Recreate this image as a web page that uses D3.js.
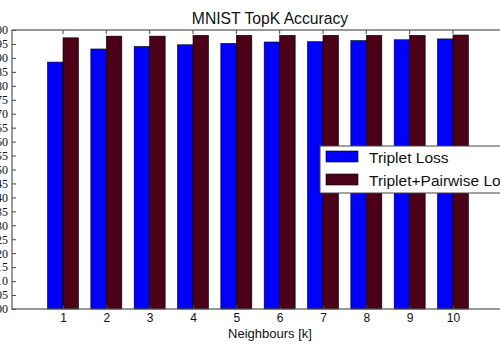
<!DOCTYPE html>
<html>
<head>
<meta charset="utf-8">
<script src="https://cdn.jsdelivr.net/npm/d3@7"></script>
<style>
body { margin: 0; background: #fff; }
</style>
</head>
<body>
<svg width="500" height="354"></svg>
<script>
const neighbours = [1, 2, 3, 4, 5, 6, 7, 8, 9, 10]
const tripletLoss = [0.885, 0.932, 0.941, 0.947, 0.952, 0.957, 0.958, 0.962, 0.965, 0.968]
const pairwiseLoss = [0.972, 0.978, 0.978, 0.981, 0.981, 0.981, 0.981, 0.981, 0.981, 0.982]
const seriesNames = ['Triplet Loss', 'Triplet+Pairwise Loss']
const seriesColors = ['#0000ff', '#4b0018']
const yTicks = d3.range(0, 21).map(i => i * 0.05)

const svg = d3.select('svg')
const width = +svg.attr('width')
const height = +svg.attr('height')

const plot = {left: 12, right: 540, top: 30, bottom: 309}

const xScale = d3.scaleLinear()
	.domain([1, 10])
	.range([63, 453])

const yScale = d3.scaleLinear()
	.domain([0, 1])
	.range([plot.bottom, plot.top])

const barW = 15.5

const g = svg.append('g')

// bars
const series = [tripletLoss, pairwiseLoss]
series.forEach((vals, s) => {
	g.append('g').selectAll('rect')
		.data(neighbours)
		.enter()
		.append('rect')
		.attr('x', (d, i) => xScale(d) + (s - 1) * barW)
		.attr('y', (d, i) => yScale(vals[i]))
		.attr('width', barW)
		.attr('height', (d, i) => plot.bottom - yScale(vals[i]))
		.attr('fill', seriesColors[s])
		.attr('stroke', '#000')
		.attr('stroke-width', 0.6)
})

// axes (matplotlib style, ticks inward)
const xAxis = d3.axisBottom(xScale)
	.tickValues(neighbours)
	.tickSize(-4)
	.tickPadding(4)

const yAxis = d3.axisLeft(yScale)
	.tickValues(yTicks)
	.tickFormat(d3.format('.2f'))
	.tickSize(-4)
	.tickPadding(4)

const xg = g.append('g')
	.attr('transform', `translate(0, ${plot.bottom})`)
	.call(xAxis)
xg.select('.domain').remove()
xg.selectAll('text')
	.attr('y', 4)
	.attr('font-family', 'Liberation Sans, Arial, sans-serif')
	.attr('font-size', '12px')
	.attr('fill', '#111')
xg.selectAll('line').attr('stroke', '#444')

// top ticks
g.append('g').selectAll('line')
	.data(neighbours)
	.enter()
	.append('line')
	.attr('x1', d => xScale(d))
	.attr('x2', d => xScale(d))
	.attr('y1', plot.top)
	.attr('y2', plot.top + 4)
	.attr('stroke', '#444')

const yg = g.append('g')
	.attr('transform', `translate(${plot.left}, 0)`)
	.call(yAxis)
yg.select('.domain').remove()
yg.selectAll('text')
	.attr('font-family', 'Liberation Serif, Times New Roman, serif')
	.attr('font-size', '12px')
	.attr('fill', '#111')
yg.selectAll('line').attr('stroke', '#444')

// spines
g.append('rect')
	.attr('x', plot.left)
	.attr('y', plot.top)
	.attr('width', plot.right - plot.left)
	.attr('height', plot.bottom - plot.top)
	.attr('fill', 'none')
	.attr('stroke', '#555')
	.attr('stroke-width', 1.2)

// title
svg.append('text')
	.attr('x', 270)
	.attr('y', 24)
	.attr('text-anchor', 'middle')
	.attr('font-family', 'Liberation Sans, Arial, sans-serif')
	.attr('font-size', '15.7px')
	.attr('fill', '#111')
	.text('MNIST TopK Accuracy')

// x label
svg.append('text')
	.attr('x', 270)
	.attr('y', 338)
	.attr('text-anchor', 'middle')
	.attr('font-family', 'Liberation Sans, Arial, sans-serif')
	.attr('font-size', '13px')
	.attr('fill', '#111')
	.text('Neighbours [k]')

// legend
const legend = svg.append('g')
	.attr('transform', 'translate(320, 146)')

legend.append('rect')
	.attr('width', 240)
	.attr('height', 47)
	.attr('fill', '#fff')
	.attr('stroke', '#444')
	.attr('stroke-width', 1)

seriesNames.forEach((name, i) => {
	const row = legend.append('g')
		.attr('transform', `translate(6, ${5 + i * 23})`)
	row.append('rect')
		.attr('width', 32)
		.attr('height', 11)
		.attr('fill', seriesColors[i])
		.attr('stroke', '#000')
		.attr('stroke-width', 0.6)
	row.append('text')
		.attr('x', 43)
		.attr('y', 11.5)
		.attr('font-family', 'Liberation Sans, Arial, sans-serif')
		.attr('font-size', '15.5px')
		.attr('fill', '#111')
		.text(name)
})
</script>
</body>
</html>
